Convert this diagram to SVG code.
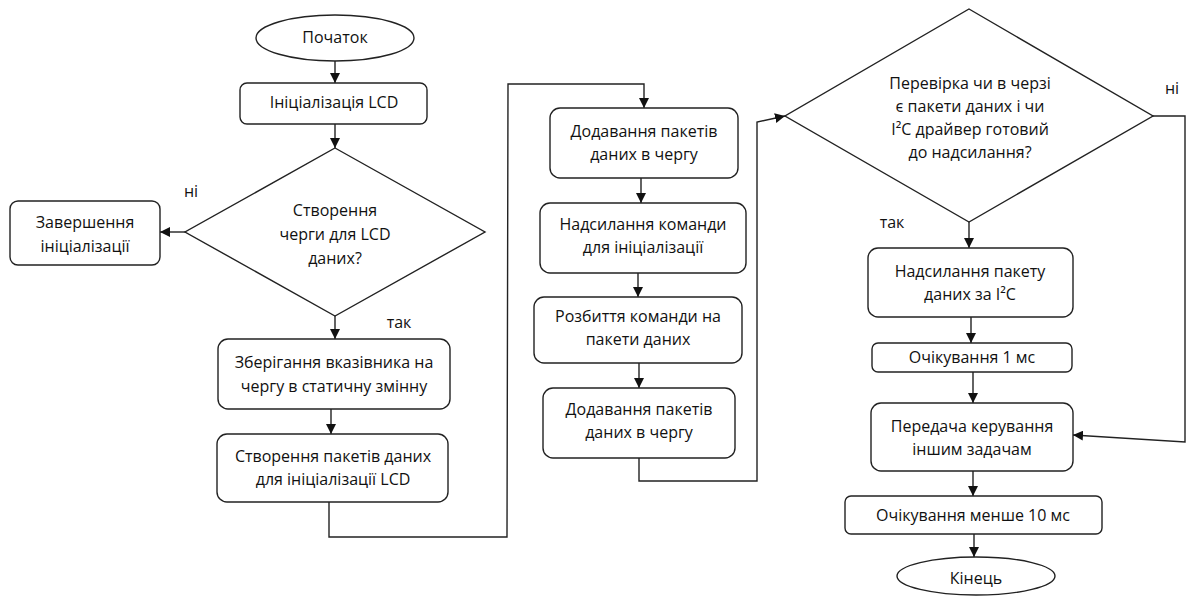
<svg xmlns="http://www.w3.org/2000/svg" width="1187" height="606" viewBox="0 0 1187 606">
<defs>
<marker id="arr" viewBox="0 0 10 10" refX="10" refY="5" markerWidth="10" markerHeight="10" markerUnits="userSpaceOnUse" orient="auto">
<path d="M0,0 L10,5 L0,10 Z" fill="#111"/>
</marker>
<style>
.n{fill:#fff;stroke:#222;stroke-width:1.4}
.c{fill:none;stroke:#222;stroke-width:1.4}
text{font-family:"Open Sans","Noto Sans","Liberation Sans",sans-serif;font-size:16px;fill:#111;text-anchor:middle}
</style>
</defs>
<rect width="1187" height="606" fill="#fff"/>
<g id="connectors">
<path class="c" d="M335,61 V83" marker-end="url(#arr)"/>
<path class="c" d="M335,124 V148" marker-end="url(#arr)"/>
<path class="c" d="M185,232 H160" marker-end="url(#arr)"/>
<path class="c" d="M335,316 V339" marker-end="url(#arr)"/>
<path class="c" d="M331,409 V434" marker-end="url(#arr)"/>
<path class="c" d="M329,502 V537 H507 L508,84 H644 V108" marker-end="url(#arr)"/>
<path class="c" d="M641,178 V203" marker-end="url(#arr)"/>
<path class="c" d="M638,273 V297" marker-end="url(#arr)"/>
<path class="c" d="M639,363 V388" marker-end="url(#arr)"/>
<path class="c" d="M639,458 V481 H757 V122 L785,116" marker-end="url(#arr)"/>
<path class="c" d="M1153,116 H1185 V442 L1073,435" marker-end="url(#arr)"/>
<path class="c" d="M969,222 V248" marker-end="url(#arr)"/>
<path class="c" d="M971,317 V343" marker-end="url(#arr)"/>
<path class="c" d="M973,372 V403" marker-end="url(#arr)"/>
<path class="c" d="M973,471 V496" marker-end="url(#arr)"/>
<path class="c" d="M974,534 V557" marker-end="url(#arr)"/>
<text x="191" y="197">ні</text>
<text x="399" y="328">так</text>
<text x="1172" y="94">ні</text>
<text x="892" y="228">так</text>
</g>
<g id="start"><ellipse class="n" cx="335" cy="38" rx="79" ry="23"/><text x="335" y="43">Початок</text></g>
<g id="init"><rect class="n" x="240" y="83" width="187" height="41" rx="7"/><text x="334" y="108">Ініціалізація LCD</text></g>
<g id="dec1"><polygon class="n" points="335,148 485,232 335,316 185,232"/><text x="335" y="216">Створення</text><text x="335" y="240">черги для LCD</text><text x="335" y="264">даних?</text></g>
<g id="finish"><rect class="n" x="10" y="201" width="150" height="64" rx="8"/><text x="85" y="228">Завершення</text><text x="85" y="252">ініціалізації</text></g>
<g id="store"><rect class="n" x="218" y="339" width="232" height="70" rx="10"/><text x="334" y="368">Зберігання вказівника на</text><text x="334" y="392">чергу в статичну змінну</text></g>
<g id="create"><rect class="n" x="217" y="434" width="231" height="68" rx="10"/><text x="333" y="462">Створення пакетів даних</text><text x="333" y="485">для ініціалізації LCD</text></g>
<g id="add1"><rect class="n" x="550" y="108" width="188" height="70" rx="10"/><text x="644" y="137">Додавання пакетів</text><text x="644" y="160">даних в чергу</text></g>
<g id="send"><rect class="n" x="540" y="203" width="206" height="70" rx="10"/><text x="643" y="230">Надсилання команди</text><text x="643" y="253">для ініціалізації</text></g>
<g id="split"><rect class="n" x="534" y="297" width="208" height="66" rx="10"/><text x="638" y="322">Розбиття команди на</text><text x="638" y="345">пакети даних</text></g>
<g id="add2"><rect class="n" x="543" y="388" width="192" height="70" rx="10"/><text x="639" y="415">Додавання пакетів</text><text x="639" y="438">даних в чергу</text></g>
<g id="dec2"><polygon class="n" points="969,9 1153,116 969,222 785,116"/><text x="970" y="89">Перевірка чи в черзі</text><text x="970" y="112">є пакети даних і чи</text><text x="970" y="135">I²C драйвер готовий</text><text x="970" y="158">до надсилання?</text></g>
<g id="sendpkt"><rect class="n" x="868" y="248" width="205" height="69" rx="10"/><text x="970" y="277">Надсилання пакету</text><text x="970" y="300">даних за I²C</text></g>
<g id="wait1"><rect class="n" x="872" y="343" width="200" height="29" rx="6"/><text x="972" y="363">Очікування 1 мс</text></g>
<g id="yield"><rect class="n" x="871" y="403" width="202" height="68" rx="10"/><text x="972" y="432">Передача керування</text><text x="972" y="455">іншим задачам</text></g>
<g id="wait10"><rect class="n" x="845" y="496" width="257" height="38" rx="6"/><text x="973" y="521">Очікування менше 10 мс</text></g>
<g id="end"><ellipse class="n" cx="976" cy="576" rx="79" ry="19"/><text x="976" y="584">Кінець</text></g>
</svg>
